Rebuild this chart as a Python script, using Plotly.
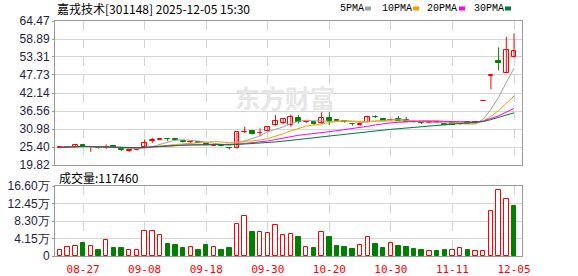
import plotly.graph_objects as go
import pandas as pd

# ---------------- data ----------------
dates = [
    "08-22", "08-25", "08-26", "08-27", "08-28", "08-29", "09-01", "09-02", "09-03", "09-04",
    "09-05", "09-08", "09-09", "09-10", "09-11", "09-12", "09-15", "09-16", "09-17", "09-18",
    "09-19", "09-22", "09-23", "09-24", "09-25", "09-26", "09-29", "09-30", "10-09", "10-10",
    "10-13", "10-14", "10-15", "10-16", "10-17", "10-20", "10-21", "10-22", "10-23", "10-24",
    "10-27", "10-28", "10-29", "10-30", "10-31", "11-03", "11-04", "11-05", "11-06", "11-07",
    "11-10", "11-11", "11-12", "11-13", "11-14", "12-01", "12-02", "12-03", "12-04", "12-05",
]
opens = [
    25.2, 25.35, 25.5, 26.0, 25.3, 25.2, 25.1, 25.6, 25.1, 24.2,
    24.4, 25.3, 27.4, 27.7, 27.95, 27.8, 27.3, 26.9, 26.9, 26.4,
    25.8, 26.0, 25.2, 25.0, 30.0, 30.4, 29.6, 30.4, 32.2, 32.7,
    32.2, 34.5, 33.0, 33.3, 32.7, 34.5, 33.65, 33.4, 32.5, 32.2,
    33.1, 34.8, 34.1, 33.7, 34.1, 33.8, 33.3, 32.95, 32.9, 33.0,
    32.5, 32.8, 32.5, 33.0, 32.8, 39.66, 47.59, 52.1, 48.5, 53.2,
]
highs = [
    25.5, 25.7, 26.2, 26.1, 25.6, 25.3, 26.2, 25.9, 25.2, 24.5,
    24.6, 27.8, 28.2, 28.1, 28.0, 27.9, 27.5, 27.3, 27.0, 26.5,
    26.2, 26.1, 25.4, 30.0, 31.7, 30.5, 31.2, 31.6, 35.3, 34.2,
    35.5, 35.3, 33.3, 33.5, 36.2, 36.2, 33.8, 33.5, 32.6, 32.7,
    35.0, 35.2, 34.3, 34.2, 35.0, 34.7, 33.6, 33.0, 33.2, 33.1,
    32.6, 32.9, 32.8, 33.1, 33.1, 39.66, 47.59, 56.3, 59.6, 60.65,
]
lows = [
    25.0, 25.2, 25.4, 25.3, 23.9, 24.9, 24.8, 25.2, 24.2, 23.9,
    24.3, 25.2, 26.7, 27.6, 27.2, 27.4, 26.8, 26.5, 26.6, 25.9,
    25.7, 25.6, 24.6, 24.9, 29.7, 29.3, 28.8, 30.3, 32.0, 32.5,
    31.7, 32.7, 32.8, 32.3, 32.5, 32.2, 33.3, 32.9, 32.0, 32.0,
    33.0, 34.4, 33.4, 33.5, 33.4, 33.0, 32.9, 32.5, 32.7, 32.7,
    32.1, 32.2, 32.3, 32.5, 32.7, 39.66, 43.3, 49.1, 48.3, 53.2,
]
closes = [
    25.3, 25.5, 26.0, 25.4, 25.45, 25.0, 25.5, 25.4, 24.4, 24.45,
    24.5, 26.5, 27.6, 28.0, 27.85, 27.6, 27.05, 27.1, 26.7, 26.0,
    26.05, 25.7, 25.0, 30.0, 30.1, 29.4, 29.7, 31.5, 33.5, 34.0,
    34.8, 33.0, 33.15, 32.5, 34.3, 33.6, 33.5, 33.0, 32.4, 32.5,
    34.8, 34.6, 33.5, 33.8, 33.5, 33.1, 33.0, 32.9, 33.0, 32.9,
    32.2, 32.3, 32.6, 32.55, 33.05, 39.66, 47.59, 51.3, 55.5, 55.2,
]
volumes = [  # 手
    14400, 21500, 23900, 31900, 23900, 15200, 38300, 19200, 19200, 14400,
    14400, 59900, 59900, 50300, 29500, 27100, 20000, 21500, 15200, 27100,
    21500, 15200, 20000, 76600, 95800, 55900, 57500, 55100, 74200, 50300,
    52700, 43900, 21500, 20000, 57500, 45500, 23900, 21500, 16800, 26300,
    45500, 29500, 20000, 31100, 23900, 21500, 16800, 14400, 12000, 12000,
    14400, 14400, 18400, 14400, 12000, 12000, 107700, 155600, 134100, 117460,
]
price_ticks = [19.82, 25.40, 30.98, 36.56, 42.14, 47.73, 53.31, 58.89, 64.47]
vol_ticks_wan = [0, 4.15, 8.30, 12.45, 16.60]
ma_periods = [5, 10, 20, 30]
ma_names = ["5PMA", "10PMA", "20PMA", "30PMA"]
ma_colors = ["#a0a0a0", "#f0a000", "#ff00ff", "#00783c"]
title_text = "嘉戎技术[301148] 2025-12-05 15:30"
vol_label = "成交量"
watermark = "东方财富"

RED = "#ff0000"
GREEN = "#008000"

# ---------------- geometry helpers ----------------
W, H = 578, 276
PL, PR, PT, PB = 55, 522, 21, 256
PRICE_BOTTOM = 165
VOL_TOP = 186


def px_x(px):
    return (px - PL) / (PR - PL)


def px_y(py):
    return (PB - py) / (PB - PT)


n = len(closes)
idx = list(range(n))
xr = [-0.65, n - 1 + 1.04]

# ---------------- traces ----------------
fig = go.Figure()

up = [c >= o for o, c in zip(opens, closes)]

# wicks
for is_up, col in [(True, RED), (False, GREEN)]:
    wx, wy = [], []
    for i in idx:
        if up[i] == is_up and highs[i] > lows[i]:
            wx += [i, i, None]
            wy += [lows[i], highs[i], None]
    fig.add_trace(go.Scatter(x=wx, y=wy, mode="lines", line=dict(color=col, width=1),
                             hoverinfo="skip", showlegend=False, xaxis="x", yaxis="y"))

# bodies
MINH = 0.12
for is_up, fill, col in [(True, "#ffffff", RED), (False, GREEN, GREEN)]:
    bx, bb, bh = [], [], []
    for i in idx:
        if up[i] == is_up:
            lo = min(opens[i], closes[i])
            hgt = abs(closes[i] - opens[i])
            if hgt < MINH:
                lo = lo - (MINH - hgt) / 2
                hgt = MINH
            bx.append(i)
            bb.append(lo)
            bh.append(hgt)
    fig.add_trace(go.Bar(x=bx, y=bh, base=bb, width=0.62,
                         marker=dict(color=fill, line=dict(color=col, width=1)),
                         hoverinfo="skip", showlegend=False, xaxis="x", yaxis="y"))

# moving averages
cs = pd.Series(closes)
for p, col in zip(ma_periods, ma_colors):
    ma = cs.rolling(p, min_periods=1).mean()
    fig.add_trace(go.Scatter(x=idx, y=ma, mode="lines", line=dict(color=col, width=1),
                             hoverinfo="skip", showlegend=False, xaxis="x", yaxis="y"))

# volume bars (colour by change vs previous close)
vol_wan = [v / 10000 for v in volumes]
vup = [True] + [closes[i] >= closes[i - 1] for i in range(1, n)]
for is_up, fill, col in [(True, "#ffffff", RED), (False, GREEN, GREEN)]:
    vx = [i for i in idx if vup[i] == is_up]
    vy = [vol_wan[i] for i in vx]
    fig.add_trace(go.Bar(x=vx, y=vy, width=0.58,
                         marker=dict(color=fill, line=dict(color=col, width=1)),
                         hoverinfo="skip", showlegend=False, xaxis="x2", yaxis="y2"))

# ---------------- layout ----------------
tickpos = list(range(3, n, 8))
frame = "#999999"
grid = "#d4d4d4"
tick_font = dict(family="Liberation Sans, Arial, sans-serif", size=12, color="#1e2240")

fig.update_layout(
    width=W, height=H,
    margin=dict(l=PL, r=W - PR, t=PT, b=H - PB, autoexpand=False),
    paper_bgcolor="#ffffff", plot_bgcolor="#ffffff",
    barmode="overlay", bargap=0,
    showlegend=False,
    xaxis=dict(domain=[0, 1], anchor="y", range=xr, tickvals=tickpos, showticklabels=False,
               showgrid=True, gridcolor=grid, griddash="dash", gridwidth=1, zeroline=False,
               showline=True, mirror=True, linecolor=frame, linewidth=1, ticks="",
               automargin=False),
    yaxis=dict(domain=[px_y(PRICE_BOTTOM), 1], anchor="x", range=[price_ticks[0], price_ticks[-1]],
               tickvals=price_ticks, ticktext=[f"{t:.2f}" for t in price_ticks],
               showgrid=True, gridcolor=grid, gridwidth=1, zeroline=False,
               showline=True, mirror=True, linecolor=frame, linewidth=1,
               ticks="outside", ticklen=2, tickcolor=frame, tickfont=tick_font,
               automargin=False),
    xaxis2=dict(domain=[0, 1], anchor="y2", range=xr, matches="x", tickvals=tickpos,
                ticktext=[dates[i] for i in tickpos], showgrid=True, gridcolor=grid, griddash="dash",
                zeroline=False, showline=True, mirror=True, linecolor=frame, linewidth=1, ticks="",
                ticklabelstandoff=3, automargin=False,
                tickfont=dict(family="DejaVu Sans Mono, monospace", size=11, color=RED)),
    yaxis2=dict(domain=[0, px_y(VOL_TOP)], anchor="x2", range=[0, vol_ticks_wan[-1]],
                tickvals=vol_ticks_wan,
                ticktext=[("0" if t == 0 else f"{t:.2f}万") for t in vol_ticks_wan],
                showgrid=True, gridcolor=grid, zeroline=False,
                showline=True, mirror=True, linecolor=frame, linewidth=1,
                ticks="outside", ticklen=2, tickcolor=frame, tickfont=tick_font,
                automargin=False),
)

cjk = "Noto Sans CJK SC, sans-serif"
ann = [
    dict(text=title_text, x=px_x(55), y=px_y(8.5), xanchor="left", yanchor="middle",
         font=dict(family=cjk, size=12, color="#000000")),
    dict(text=f"{vol_label}:{volumes[-1]}", x=px_x(57), y=px_y(177.5), xanchor="left", yanchor="middle",
         font=dict(family=cjk, size=12, color="#000000")),
    dict(text=f"<b>{watermark}</b>", x=px_x(285), y=px_y(97), xanchor="center", yanchor="middle",
         font=dict(family=cjk, size=25, color="#e6e6e6")),
]
leg_x = [338, 380, 425, 472]
sq_x = [365, 413, 459, 505]
for name, col, lx, sx in zip(ma_names, ma_colors, leg_x, sq_x):
    ann.append(dict(text=name, x=px_x(lx), y=px_y(8.5), xanchor="left", yanchor="middle",
                    font=dict(family="Liberation Mono, monospace", size=10, color="#000000")))
    fig.add_shape(type="rect", xref="paper", yref="paper", x0=px_x(sx), x1=px_x(sx + 6),
                  y0=px_y(10.5), y1=px_y(6.5), fillcolor=col, line=dict(width=0))
for a in ann:
    a.update(xref="paper", yref="paper", showarrow=False)
fig.update_layout(annotations=ann)

fig.write_html("out.html")
